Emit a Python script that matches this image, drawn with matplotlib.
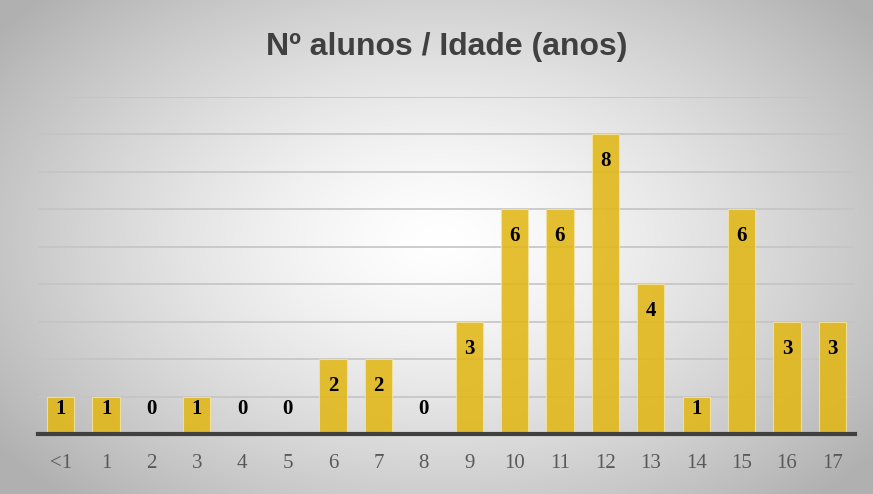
import numpy as np
import matplotlib
matplotlib.use("Agg")
import matplotlib.pyplot as plt

# dados
idades = ["<1", "1", "2", "3", "4", "5", "6", "7", "8", "9",
          "10", "11", "12", "13", "14", "15", "16", "17"]
n_alunos = [1, 1, 0, 1, 0, 0, 2, 2, 0, 3, 6, 6, 8, 4, 1, 6, 3, 3]
titulo = "Nº alunos / Idade (anos)"

W, H = 873, 494
fig = plt.figure(figsize=(W / 100, H / 100), dpi=100)

# ── Fundo com gradiente radial ───────────────────────────────────────────────
bg = fig.add_axes([0, 0, 1, 1], zorder=0)
yy, xx = np.mgrid[0:H, 0:W]
r = np.sqrt(((xx - 440) / 500) ** 2 + ((yy - 240) / 320) ** 2)
r = np.clip(r, 0, 1.1)
g = 1.0 - 0.27 * r ** 1.4
bg.imshow(np.dstack([g, g, g]), aspect="auto", extent=[0, 1, 0, 1])
bg.set_axis_off()

# ── Gráfico de barras ────────────────────────────────────────────────────────
ax = fig.add_axes([38 / W, 1 - 434 / H, (855 - 38) / W, (434 - 97) / H], zorder=1)
ax.patch.set_alpha(0)
x = np.arange(len(idades))
ax.bar(x, n_alunos, width=0.6, color="#E2B716", alpha=0.88,
       edgecolor="#F3E3A0", linewidth=0.8, zorder=2)

ax.set_xlim(-0.5, len(idades) - 0.5)
ax.set_ylim(0, 9)
ax.set_yticks(np.arange(0, 10))
ax.yaxis.grid(True, color="#C4C4C4", linewidth=1.2, zorder=1)
ax.tick_params(axis="y", left=False, labelleft=False)
ax.tick_params(axis="x", bottom=False, pad=11)
ax.set_xticks(x)
ax.set_xticklabels(idades, fontsize=15, color="#595959", family="Liberation Serif")
for s in ["top", "right", "left"]:
    ax.spines[s].set_visible(False)
ax.spines["bottom"].set_color("#404040")
ax.spines["bottom"].set_linewidth(3)
ax.spines["bottom"].set_zorder(3)

# rótulos dentro do topo da barra (barras curtas: empurrados para cima)
for xi, v in zip(x, n_alunos):
    yl = max(v - 0.72, 0.66)
    ax.text(xi, yl, str(v), ha="center", va="center", fontsize=15,
            fontweight="bold", family="Liberation Serif", color="black", zorder=4)

fig.text(447 / W, 1 - 47 / H, titulo, ha="center", va="center", fontsize=23,
         fontweight="bold", color="#404040",
         family=["Liberation Sans Narrow", "Liberation Sans", "DejaVu Sans"])

fig.savefig("out.png", dpi=100)
